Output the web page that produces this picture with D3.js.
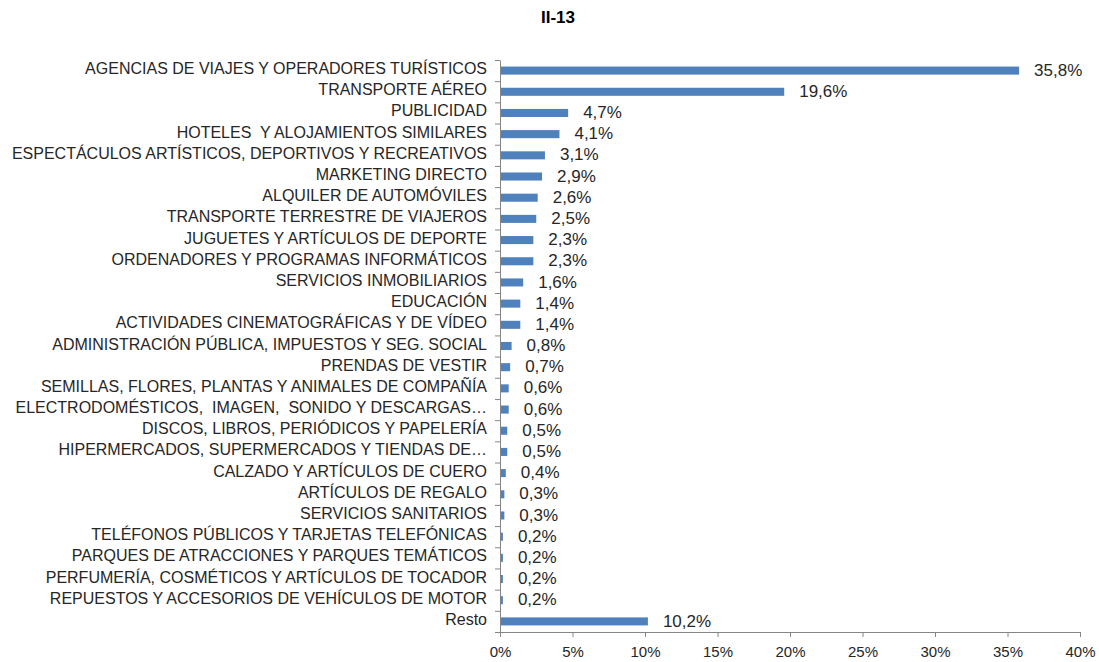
<!DOCTYPE html>
<html>
<head>
<meta charset="utf-8">
<script src="https://cdn.jsdelivr.net/npm/d3@7"></script>
<style>
  body { margin: 0; background: #fff; }
  svg { font-family: "Liberation Sans", Arial, sans-serif; }
  .axis path, .axis line { stroke: #868686; }
  text { white-space: pre; }
</style>
</head>
<body>
<svg id="chart" width="1099" height="662"></svg>
<script>
// chart data
const categories = [
  "AGENCIAS DE VIAJES Y OPERADORES TURÍSTICOS",
  "TRANSPORTE AÉREO",
  "PUBLICIDAD",
  "HOTELES  Y ALOJAMIENTOS SIMILARES",
  "ESPECTÁCULOS ARTÍSTICOS, DEPORTIVOS Y RECREATIVOS",
  "MARKETING DIRECTO",
  "ALQUILER DE AUTOMÓVILES",
  "TRANSPORTE TERRESTRE DE VIAJEROS",
  "JUGUETES Y ARTÍCULOS DE DEPORTE",
  "ORDENADORES Y PROGRAMAS INFORMÁTICOS",
  "SERVICIOS INMOBILIARIOS",
  "EDUCACIÓN",
  "ACTIVIDADES CINEMATOGRÁFICAS Y DE VÍDEO",
  "ADMINISTRACIÓN PÚBLICA, IMPUESTOS Y SEG. SOCIAL",
  "PRENDAS DE VESTIR",
  "SEMILLAS, FLORES, PLANTAS Y ANIMALES DE COMPAÑÍA",
  "ELECTRODOMÉSTICOS,  IMAGEN,  SONIDO Y DESCARGAS…",
  "DISCOS, LIBROS, PERIÓDICOS Y PAPELERÍA",
  "HIPERMERCADOS, SUPERMERCADOS Y TIENDAS DE…",
  "CALZADO Y ARTÍCULOS DE CUERO",
  "ARTÍCULOS DE REGALO",
  "SERVICIOS SANITARIOS",
  "TELÉFONOS PÚBLICOS Y TARJETAS TELEFÓNICAS",
  "PARQUES DE ATRACCIONES Y PARQUES TEMÁTICOS",
  "PERFUMERÍA, COSMÉTICOS Y ARTÍCULOS DE TOCADOR",
  "REPUESTOS Y ACCESORIOS DE VEHÍCULOS DE MOTOR",
  "Resto"
];
const shares = [35.8, 19.6, 4.7, 4.1, 3.1, 2.9, 2.6, 2.5, 2.3, 2.3, 1.6, 1.4, 1.4,
  0.8, 0.7, 0.6, 0.6, 0.5, 0.5, 0.4, 0.3, 0.3, 0.2, 0.2, 0.2, 0.2, 10.2];
const xTicks = [0, 5, 10, 15, 20, 25, 30, 35, 40];
const title = "II-13";

const svg = d3.select("#chart");
const margin = { top: 60, left: 500, right: 19, bottom: 30 };
const width = 1099 - margin.left - margin.right;
const height = 662 - margin.top - margin.bottom;

const g = svg.append("g").attr("transform", `translate(${margin.left},${margin.top})`);

const x = d3.scaleLinear().domain([0, 40]).range([0, width]);
const y = d3.scaleBand().domain(categories).range([0, height]).paddingInner(0.62).paddingOuter(0.31);
const yEdge = d3.scaleLinear().domain([0, categories.length]).range([0, height]);

// title
svg.append("text")
  .attr("x", 558).attr("y", 23)
  .attr("text-anchor", "middle")
  .attr("font-size", 17).attr("font-weight", "bold")
  .attr("fill", "#000")
  .text(title);

// bars
g.selectAll(".bar")
  .data(shares)
  .join("rect")
  .attr("class", "bar")
  .attr("x", 0)
  .attr("y", (d, i) => y(categories[i]))
  .attr("width", d => x(d))
  .attr("height", y.bandwidth())
  .attr("fill", "#4F81BD");

// value labels
g.selectAll(".val")
  .data(shares)
  .join("text")
  .attr("class", "val")
  .attr("x", d => x(d) + 15)
  .attr("y", (d, i) => y(categories[i]) + y.bandwidth() / 2)
  .attr("dy", "0.3em")
  .attr("font-size", 17)
  .attr("fill", "#262626")
  .text(d => d.toFixed(1).replace(".", ",") + "%");

// x axis
const xAxis = g.append("g")
  .attr("class", "axis")
  .attr("transform", `translate(0,${height})`)
  .call(d3.axisBottom(x).tickValues(xTicks).tickSize(5).tickSizeOuter(0)
    .tickFormat(d => d + "%"));
xAxis.selectAll("text").attr("font-size", 15).attr("fill", "#262626")
  .attr("y", 25).attr("dy", 0);

// y axis: boundary ticks
g.append("g")
  .attr("class", "axis")
  .call(d3.axisLeft(yEdge).tickValues(d3.range(categories.length + 1)).tickSize(5)
    .tickSizeOuter(0).tickFormat(""));

// category labels
g.selectAll(".cat")
  .data(categories)
  .join("text")
  .attr("class", "cat")
  .attr("x", -13)
  .attr("y", d => y(d) + y.bandwidth() / 2)
  .attr("dy", "0.22em")
  .attr("text-anchor", "end")
  .attr("font-size", 16)
  .attr("fill", "#262626")
  .text(d => d);
</script>
</body>
</html>
